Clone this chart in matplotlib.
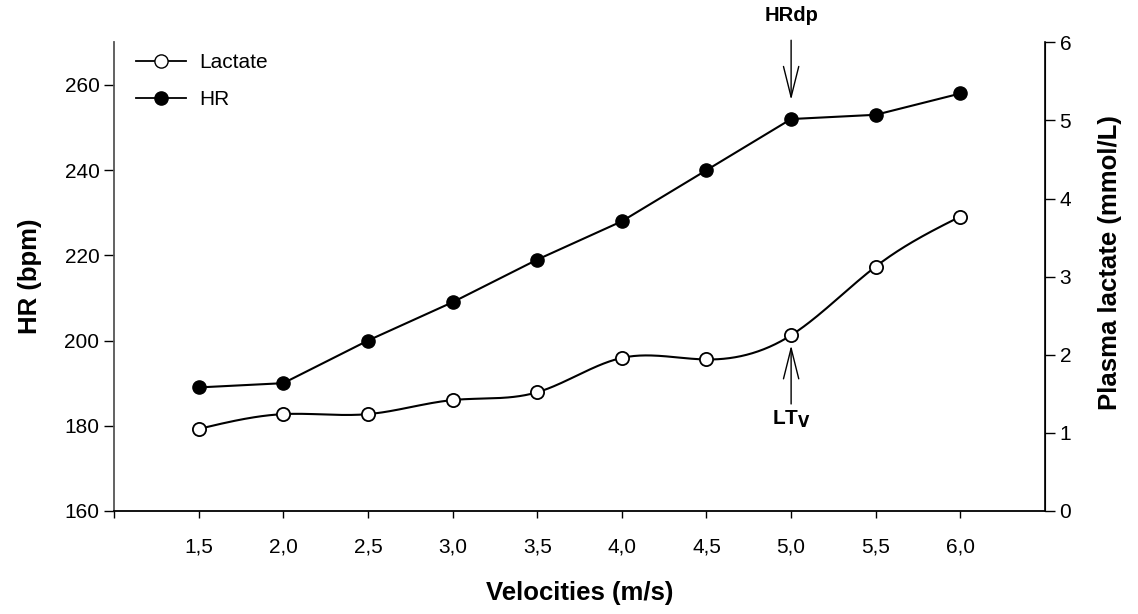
import numpy as np
import matplotlib
matplotlib.use("Agg")
import matplotlib.pyplot as plt
from matplotlib.lines import Line2D

plt.rcParams['font.family'] = ['Liberation Sans', 'DejaVu Sans']

velocities = [1.5, 2.0, 2.5, 3.0, 3.5, 4.0, 4.5, 5.0, 5.5, 6.0]
hr = [189, 190, 200, 209, 219, 228, 240, 252, 253, 258]
lactate = [1.05, 1.24, 1.24, 1.42, 1.52, 1.96, 1.94, 2.25, 3.13, 3.77]
xtick_labels = ["1,5", "2,0", "2,5", "3,0", "3,5", "4,0", "4,5", "5,0", "5,5", "6,0"]


def natural_spline(x, y, n=400):
    x = np.asarray(x, float); y = np.asarray(y, float)
    m = len(x); h = np.diff(x)
    A = np.zeros((m, m)); b = np.zeros(m)
    A[0, 0] = 1; A[-1, -1] = 1
    for i in range(1, m - 1):
        A[i, i - 1] = h[i - 1]; A[i, i] = 2 * (h[i - 1] + h[i]); A[i, i + 1] = h[i]
        b[i] = 6 * ((y[i + 1] - y[i]) / h[i] - (y[i] - y[i - 1]) / h[i - 1])
    M = np.linalg.solve(A, b)
    xs = np.linspace(x[0], x[-1], n)
    idx = np.clip(np.searchsorted(x, xs) - 1, 0, m - 2)
    x0 = x[idx]; x1 = x[idx + 1]; hh = x1 - x0
    ys = (M[idx] * (x1 - xs) ** 3 / (6 * hh) + M[idx + 1] * (xs - x0) ** 3 / (6 * hh)
          + (y[idx] / hh - M[idx] * hh / 6) * (x1 - xs)
          + (y[idx + 1] / hh - M[idx + 1] * hh / 6) * (xs - x0))
    return xs, ys


fig = plt.figure(figsize=(11.38, 6.14), dpi=100)
ax = fig.add_axes([0.1002, 0.1678, 0.8181, 0.7632])
ax2 = ax.twinx()

# HR on left axis
ax.plot(velocities, hr, color='black', lw=1.5, zorder=3)
ax.plot(velocities, hr, 'o', color='black', ms=9.5, mfc='black', mec='black', zorder=4)

# Lactate on right axis
xs, ys = natural_spline(velocities, lactate)
ax2.plot(xs, ys, color='black', lw=1.5, zorder=3)
ax2.plot(velocities, lactate, 'o', color='black', ms=9.5, mfc='white', mec='black', mew=1.3, zorder=4)

ax.set_xlim(1.0, 6.5)
ax.set_ylim(160, 270)
ax2.set_ylim(0, 6)

ax.set_xticks([1.0] + velocities)
ax.set_xticklabels([""] + xtick_labels, fontsize=15)
ax.set_yticks([160, 180, 200, 220, 240, 260])
ax.tick_params(axis='y', labelsize=15, direction='out', length=7, width=1)
ax.tick_params(axis='x', direction='out', length=5, width=1, pad=14)
ax2.set_yticks([0, 1, 2, 3, 4, 5, 6])
ax2.tick_params(axis='y', labelsize=15, direction='out', length=7, width=1)

for a in (ax, ax2):
    a.spines['top'].set_visible(False)
ax.spines['left'].set_color('#555555')
ax.spines['left'].set_linewidth(1.3)
ax2.spines['right'].set_color('black')
ax2.spines['right'].set_linewidth(1.2)
ax.spines['bottom'].set_linewidth(1.3)
ax2.spines['left'].set_visible(False)
ax2.spines['bottom'].set_visible(False)

ax.set_xlabel("Velocities (m/s)", fontsize=18.5, fontweight='bold', labelpad=18)
ax.set_ylabel("HR (bpm)", fontsize=18.5, fontweight='bold', labelpad=16)
ax2.set_ylabel("Plasma lactate (mmol/L)", fontsize=18.5, fontweight='bold', labelpad=14)
ax2.yaxis.set_label_coords(1.057, 0.53)

# legend
handles = [Line2D([], [], color='black', lw=1.3, marker='o', ms=9.5, mfc='white', mec='black'),
           Line2D([], [], color='black', lw=1.3, marker='o', ms=9.5, mfc='black', mec='black')]
ax.legend(handles, ["Lactate", "HR"], loc='upper left', bbox_to_anchor=(0.006, 1.012),
          frameon=False, fontsize=15, handlelength=2.4, handletextpad=0.6,
          borderaxespad=0.4, labelspacing=0.85)

# arrows
ax.annotate('', xy=(5.0, 256.5), xytext=(5.0, 270.5), annotation_clip=False,
            arrowprops=dict(arrowstyle='->,head_length=2.2,head_width=0.55', color='black',
                            lw=1.0, shrinkA=0, shrinkB=0))
ax.text(5.0, 274, "HRdp", ha='center', va='bottom', fontsize=14.5, fontweight='bold')

ax2.annotate('', xy=(5.0, 2.12), xytext=(5.0, 1.37), annotation_clip=False,
             arrowprops=dict(arrowstyle='->,head_length=2.2,head_width=0.55', color='black',
                             lw=1.0, shrinkA=0, shrinkB=0))
ax2.text(5.0, 1.18, r"LT$_\mathbf{V}$", ha='center', va='center', fontsize=15, fontweight='bold')

fig.savefig("out.png", dpi=100)
